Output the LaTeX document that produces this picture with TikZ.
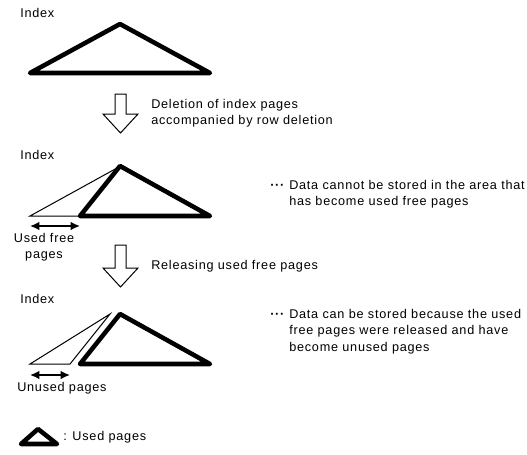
\documentclass[tikz,border=0pt]{standalone}
\usepackage{fontspec}
\setmainfont[LetterSpace=6]{Liberation Sans}
\usetikzlibrary{arrows.meta}
\begin{document}
\begin{tikzpicture}[x=0.75pt,y=-0.75pt,
 lbl/.style={font=\fontsize{9.5}{12.2}\selectfont, inner sep=0pt, anchor=west, align=left},
 clbl/.style={font=\fontsize{9.5}{12.2}\selectfont, inner sep=0pt, align=center},
 usedtri/.style={line width=3.4pt, line join=round},
 freetri/.style={line width=0.75pt, line join=miter},
 hollow/.style={line width=0.75pt, fill=white, line join=miter},
 spanarrow/.style={{Latex[length=7pt,width=6.5pt]}-{Latex[length=7pt,width=6.5pt]}, line width=1.3pt}]
\useasboundingbox (0,0) rectangle (527,454);

% ---- section 1
\node[lbl] (idx1) at (20,13) {Index};
\coordinate (a1) at (120,24);
\coordinate (l1) at (30,73);
\coordinate (r1) at (210,73);
\draw[usedtri] (l1) -- (a1) -- (r1) -- cycle;

\draw[hollow] (115,94) -- (126,94) -- (126,114) -- (138,114) -- (120.5,133) -- (103,114) -- (115,114) -- cycle;
\node[lbl] (t1) at (151,113) {Deletion of index pages\\accompanied by row deletion};

% ---- section 2
\node[lbl] (idx2) at (20,155) {Index};
\coordinate (a2) at (120,166);
\coordinate (l2) at (80,216);
\coordinate (r2) at (210,216);
\coordinate (fl2) at (30,216);
\coordinate (fa2) at (117,168);
\draw[freetri] (fl2) -- (fa2) -- (l2) -- cycle;
\draw[usedtri] (l2) -- (a2) -- (r2) -- cycle;
\coordinate (s2a) at (30,226);
\coordinate (s2b) at (80,226);
\draw[spanarrow] (s2a) -- (s2b);
\node[clbl] (uf) at (44,247) {Used free\\pages};
\node[lbl] (d2) at (270,187) {\textbf{···}};
\node[lbl] (t2) at (289,194) {Data cannot be stored in the area that\\has become used free pages};

\draw[hollow] (115,245) -- (126,245) -- (126,268) -- (138,268) -- (120.5,287) -- (103,268) -- (115,268) -- cycle;
\node[lbl] (t3) at (151,266) {Releasing used free pages};

% ---- section 3
\node[lbl] (idx3) at (20,299) {Index};
\coordinate (a3) at (120,314);
\coordinate (l3) at (80,364);
\coordinate (r3) at (210,364);
\coordinate (fl3) at (30,364);
\coordinate (fa3) at (110,314);
\coordinate (fr3) at (70,364);
\draw[freetri] (fl3) -- (fa3) -- (fr3) -- cycle;
\draw[usedtri] (l3) -- (a3) -- (r3) -- cycle;
\coordinate (s3a) at (30,375);
\coordinate (s3b) at (70,375);
\draw[spanarrow] (s3a) -- (s3b);
\node[lbl] (un) at (17,388) {Unused pages};
\node[lbl] (d3) at (270,316) {\textbf{···}};
\node[lbl] (t4) at (289,331.5) {Data can be stored because the used\\free pages were released and have\\become unused pages};

% ---- legend
\coordinate (la) at (38,429);
\coordinate (ll) at (21,444);
\coordinate (lr) at (57,444);
\draw[usedtri] (ll) -- (la) -- (lr) -- cycle;
\node[lbl] (lg) at (63,437) {: Used pages};
\end{tikzpicture}
\end{document}
